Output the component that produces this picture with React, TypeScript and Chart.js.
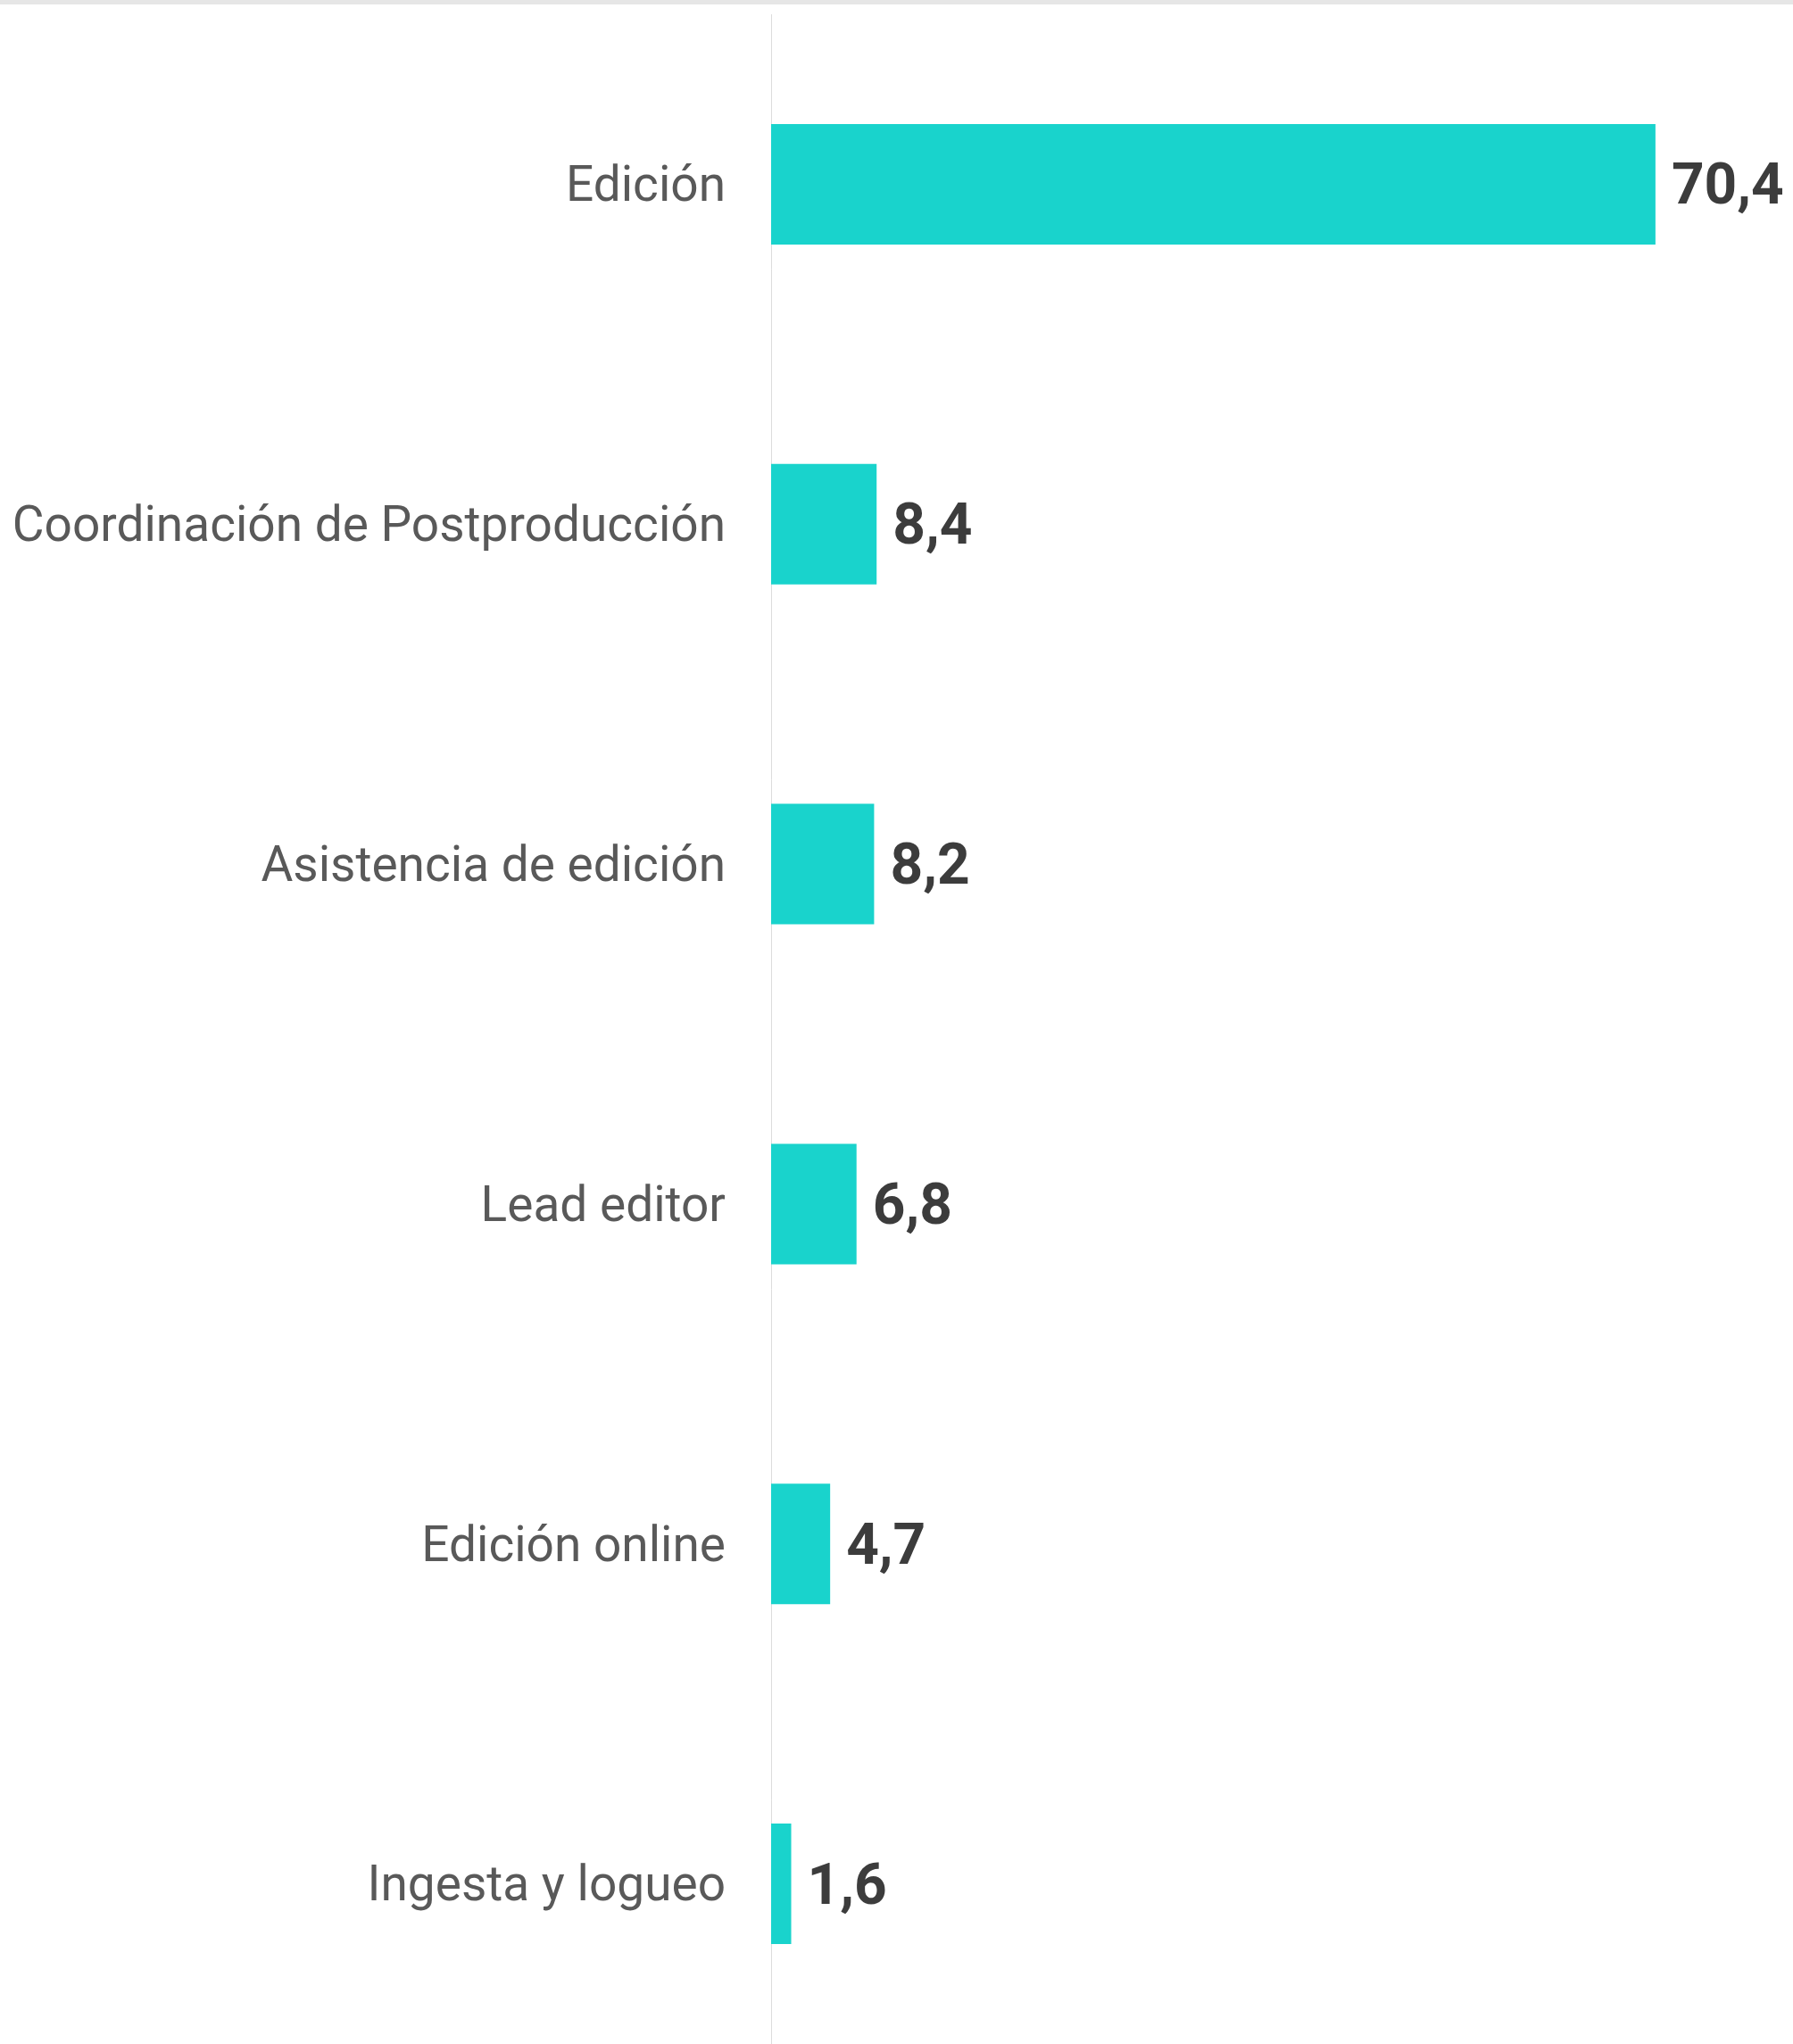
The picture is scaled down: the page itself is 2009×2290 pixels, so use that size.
import React, { useEffect, useRef } from "react";
import { Chart, registerables } from "chart.js";

Chart.register(...registerables);

const categories = [
  "Edición",
  "Coordinación de Postproducción",
  "Asistencia de edición",
  "Lead editor",
  "Edición online",
  "Ingesta y logueo",
];
const values = [70.4, 8.4, 8.2, 6.8, 4.7, 1.6];
const valueLabels = ["70,4", "8,4", "8,2", "6,8", "4,7", "1,6"];

const BAR_COLOR = "#19d3cc";
const LABEL_COLOR = "#595959";
const VALUE_COLOR = "#3c3c3c";

const valueLabelPlugin = {
  id: "valueLabels",
  afterDatasetsDraw(chart: any) {
    const ctx = chart.ctx;
    const meta = chart.getDatasetMeta(0);
    ctx.save();
    ctx.font = "bold 64px Roboto";
    ctx.fillStyle = VALUE_COLOR;
    ctx.textAlign = "left";
    ctx.textBaseline = "middle";
    meta.data.forEach((bar: any, i: number) => {
      ctx.fillText(valueLabels[i], bar.x + 18, bar.y + 6);
    });
    ctx.restore();
  },
};

export default function App() {
  const canvasRef = useRef<HTMLCanvasElement | null>(null);

  useEffect(() => {
    if (!canvasRef.current) return;
    const chart = new Chart(canvasRef.current, {
      type: "bar",
      data: {
        labels: categories,
        datasets: [
          {
            data: values,
            backgroundColor: BAR_COLOR,
            borderWidth: 0,
            categoryPercentage: 1,
            barPercentage: 0.3545,
          },
        ],
      },
      options: {
        indexAxis: "y",
        animation: false,
        responsive: false,
        maintainAspectRatio: false,
        devicePixelRatio: 1,
        layout: { padding: { top: 16, right: 19, bottom: 1, left: 0 } },
        plugins: {
          legend: { display: false },
          tooltip: { enabled: false },
        },
        scales: {
          x: {
            display: false,
            min: 0,
            max: 80,
          },
          y: {
            afterFit(scale: any) {
              scale.width = 864;
              scale.paddingTop = 0;
              scale.paddingBottom = 0;
            },
            grid: { display: false, drawTicks: false },
            border: { display: true, color: "#dcdcdc", width: 1 },
            ticks: {
              padding: 51,
              labelOffset: 5,
              color: LABEL_COLOR,
              font: { family: "Roboto", size: 55, weight: "normal" },
            },
          },
        },
      },
      plugins: [valueLabelPlugin],
    });
    return () => chart.destroy();
  }, []);

  return (
    <div
      style={{
        position: "fixed",
        top: 0,
        left: 0,
        width: 2009,
        height: 2290,
        overflow: "hidden",
        background: "#ffffff",
      }}
    >
      <div style={{ position: "absolute", top: 0, left: 0, width: 2009, height: 5, background: "#e6e6e6" }} />
      <canvas
        ref={canvasRef}
        width={2009}
        height={2302}
        style={{ position: "absolute", top: 0, left: 0, width: 2009, height: 2302 }}
      />
    </div>
  );
}
